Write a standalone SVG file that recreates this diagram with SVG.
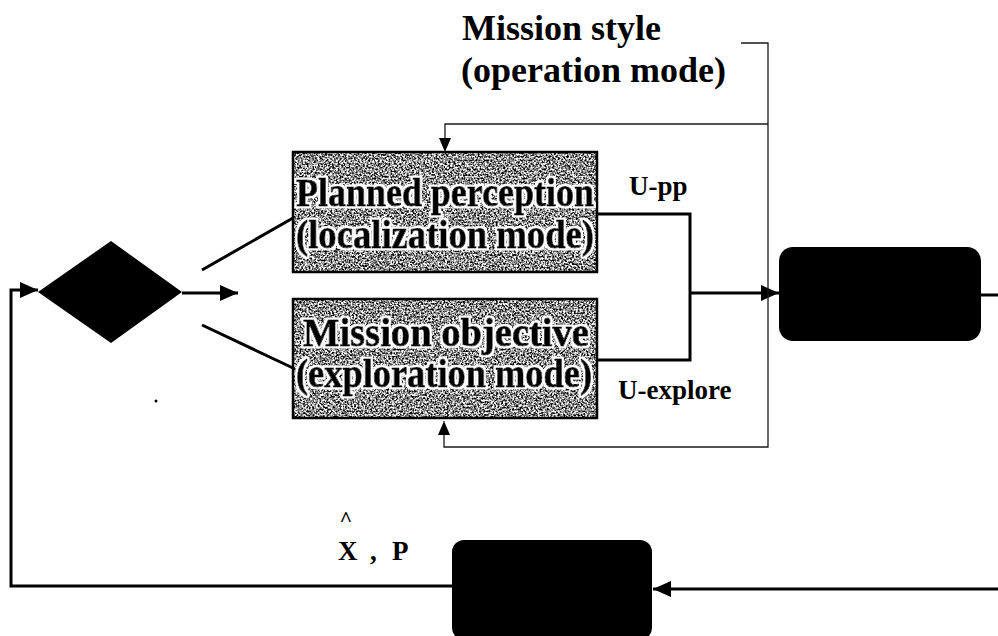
<svg xmlns="http://www.w3.org/2000/svg" width="998" height="636" viewBox="0 0 998 636">
  <style>
    .thick { fill: none; stroke: #000; stroke-width: 3; }
    .thin { fill: none; stroke: #1a1a1a; stroke-width: 1.3; }
    .frame { fill: none; stroke: #000; stroke-width: 2.5; }
    .solid { fill: #000; }
    .label { font-family: "Liberation Serif", "Times New Roman", serif; font-weight: bold; fill: #000; }
    .big { font-size: 36px; }
    .small { font-size: 27px; }
    .halo { font-size: 39px; stroke: #000; stroke-width: 0.9; stroke-linejoin: round; text-anchor: middle; filter: url(#outline); }
  </style>
  <defs>
    <!-- speckled grey fill for the two mode blocks -->
    <filter id="grain" x="0" y="0" width="1" height="1" color-interpolation-filters="sRGB">
      <feTurbulence type="fractalNoise" baseFrequency="0.55" numOctaves="3" seed="7"/>
      <feColorMatrix type="matrix" values="1 0 0 0 0  1 0 0 0 0  1 0 0 0 0  0 0 0 0 1"/>
      <feComponentTransfer>
        <feFuncR type="linear" slope="2.8" intercept="-0.85"/>
        <feFuncG type="linear" slope="2.8" intercept="-0.85"/>
        <feFuncB type="linear" slope="2.8" intercept="-0.85"/>
      </feComponentTransfer>
    </filter>
    <!-- white rim around the block captions -->
    <filter id="outline" x="-5%" y="-20%" width="110%" height="140%">
      <feMorphology in="SourceAlpha" operator="dilate" radius="1.8" result="grown"/>
      <feFlood flood-color="#fff"/>
      <feComposite in2="grown" operator="in" result="rim"/>
      <feMerge>
        <feMergeNode in="rim"/>
        <feMergeNode in="SourceGraphic"/>
      </feMerge>
    </filter>
    <marker id="arrowThick" markerUnits="userSpaceOnUse" markerWidth="18" markerHeight="18" refX="18" refY="8" orient="auto">
      <path d="M0,0 L18,8 L0,16 Z" fill="#000"/>
    </marker>
    <marker id="arrowThin" markerUnits="userSpaceOnUse" markerWidth="12" markerHeight="14" refX="14" refY="6" orient="auto">
      <path d="M0,0 L14,6 L0,12 Z" fill="#000"/>
    </marker>
  </defs>

  <rect width="998" height="636" fill="#fff"/>

  <!-- title -->
  <g id="title">
    <text class="label big" x="462" y="40">Mission style</text>
    <text class="label big" x="461" y="82">(operation mode)</text>
  </g>

  <!-- connectors -->
  <g id="connectors">
    <!-- feedback from estimator back into decision -->
    <path class="thick" d="M452,586 H11 V290 H38" marker-end="url(#arrowThick)"/>
    <path class="thick" d="M182,293 H238" marker-end="url(#arrowThick)"/>
    <path class="thick" d="M202,270 L293,218"/>
    <path class="thick" d="M202,325 L293,368"/>
    <!-- control outputs merged -->
    <path class="thick" d="M597,214 H690 V360 H597"/>
    <path class="thick" d="M690,293 H779" marker-end="url(#arrowThick)"/>
    <path class="thick" d="M981,295 H998"/>
    <path class="thick" d="M998,589 H653" marker-end="url(#arrowThick)"/>
    <!-- operation mode selection -->
    <path class="thin" d="M741,43 H768 V447 H444 V421" marker-end="url(#arrowThin)"/>
    <path class="thin" d="M768,124 H445 V152" marker-end="url(#arrowThin)"/>
  </g>

  <g id="decision">
    <polygon class="solid" points="38,292 111,241 182,292 111,343"/>
  </g>

  <g id="planned-perception">
    <rect x="293" y="152" width="304" height="120" filter="url(#grain)"/>
    <rect class="frame" x="293" y="152" width="304" height="120"/>
    <text class="label halo" x="445" y="206" textLength="298" lengthAdjust="spacingAndGlyphs">Planned perception</text>
    <text class="label halo" x="445" y="248" textLength="298" lengthAdjust="spacingAndGlyphs">(localization mode)</text>
  </g>

  <g id="mission-objective">
    <rect x="293" y="299" width="304" height="119" filter="url(#grain)"/>
    <rect class="frame" x="293" y="299" width="304" height="119"/>
    <text class="label halo" x="446" y="346" textLength="286" lengthAdjust="spacingAndGlyphs">Mission objective</text>
    <text class="label halo" x="444" y="387" textLength="296" lengthAdjust="spacingAndGlyphs">(exploration mode)</text>
  </g>

  <g id="label-upp">
    <text class="label small" x="629" y="195">U-pp</text>
  </g>
  <g id="label-uexplore">
    <text class="label small" x="618" y="399">U-explore</text>
  </g>

  <g id="plant">
    <rect class="solid" x="779" y="247" width="202" height="94" rx="14"/>
  </g>

  <g id="estimator">
    <rect class="solid" x="452" y="540" width="200" height="100" rx="12"/>
  </g>

  <g id="label-estimate">
    <text class="label" x="346" y="526" font-size="22" text-anchor="middle">^</text>
    <text class="label small" y="560"><tspan x="338">X</tspan><tspan x="370">,</tspan><tspan x="392">P</tspan></text>
  </g>

  <circle cx="156" cy="401" r="1.5" fill="#000"/>
</svg>
